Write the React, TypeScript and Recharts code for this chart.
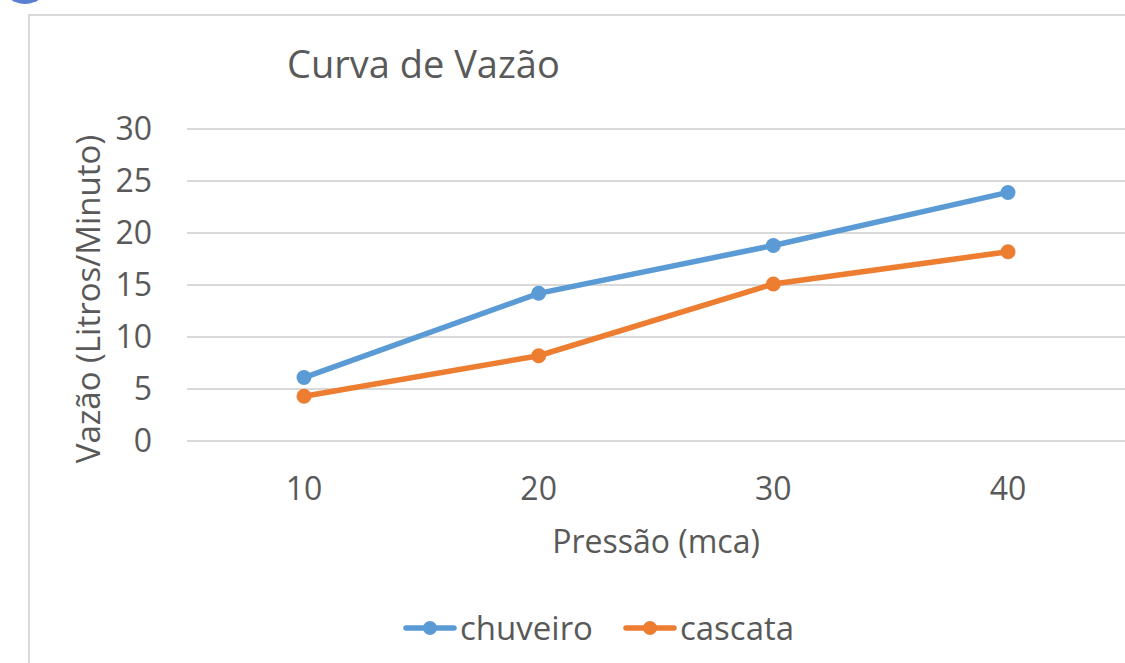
import { LineChart, Line, XAxis, YAxis, CartesianGrid, Legend } from 'recharts'

const pressoes = ['10', '20', '30', '40']
const chuveiro = [6.1, 14.2, 18.8, 23.9]
const cascata = [4.3, 8.2, 15.1, 18.2]
const yTicks = [0, 5, 10, 15, 20, 25, 30]

const data = pressoes.map((p, i) => ({ pressao: p, chuveiro: chuveiro[i], cascata: cascata[i] }))

const FONT = '"Open Sans", sans-serif'
const TEXT = '#595959'
const BLUE = '#5b9bd5'
const ORANGE = '#ed7d31'

function LegendContent() {
  const items = [
    { name: 'chuveiro', color: BLUE },
    { name: 'cascata', color: ORANGE },
  ]
  return (
    <div
      style={{
        display: 'flex',
        height: 40,
        alignItems: 'center',
        paddingLeft: 276,
        gap: 30,
        fontFamily: FONT,
        fontSize: 33,
        color: TEXT,
        lineHeight: '40px',
      }}
    >
      {items.map((it) => (
        <div key={it.name} style={{ display: 'flex', alignItems: 'center' }}>
          <svg width={54} height={20}>
            <line x1={3} y1={10} x2={51} y2={10} stroke={it.color} strokeWidth={5.5} strokeLinecap="round" />
            <circle cx={27} cy={10} r={7} fill={it.color} />
          </svg>
          <span style={{ marginLeft: 3 }}>{it.name}</span>
        </div>
      ))}
    </div>
  )
}

export default function App() {
  return (
    <div style={{ position: 'absolute', left: 0, top: 0, width: 1125, height: 663, overflow: 'hidden', background: '#fff' }}>
      <div style={{ position: 'absolute', left: 0, top: -46, width: 50, height: 50, borderRadius: 25, background: '#5a7fd0' }} />
      <div style={{ position: 'absolute', left: 28, top: 14, width: 1200, height: 800, border: '2px solid #d9d9d9' }} />
      <div
        style={{
          position: 'absolute',
          left: 287,
          top: 37,
          fontFamily: FONT,
          fontSize: 38,
          lineHeight: '52px',
          color: TEXT,
          whiteSpace: 'nowrap',
        }}
      >
        Curva de Vazão
      </div>
      <div
        style={{
          position: 'absolute',
          left: 87,
          top: 299,
          transform: 'translate(-50%, -50%) rotate(-90deg)',
          fontFamily: FONT,
          fontSize: 33,
          color: TEXT,
          whiteSpace: 'nowrap',
        }}
      >
        Vazão (Litros/Minuto)
      </div>
      <div style={{ position: 'absolute', left: 0, top: 0 }}>
        <LineChart width={1125} height={663} data={data} margin={{ top: 129, right: 0, left: 127, bottom: 62 }}>
          <CartesianGrid vertical={false} stroke="#d9d9d9" strokeWidth={2} />
          <XAxis
            dataKey="pressao"
            padding={{ left: 117, right: 117 }}
            axisLine={{ stroke: '#d9d9d9', strokeWidth: 2 }}
            tickLine={false}
            tickSize={0}
            tickMargin={36}
            height={120}
            tick={{ fill: TEXT, fontSize: 32, fontFamily: FONT }}
            label={{ value: 'Pressão (mca)', position: 'insideBottom', offset: 8, fill: TEXT, fontSize: 32, fontFamily: FONT }}
          />
          <YAxis
            domain={[0, 30]}
            ticks={yTicks}
            width={60}
            axisLine={false}
            tickLine={false}
            tickSize={0}
            tickMargin={35}
            tick={{ fill: TEXT, fontSize: 32, fontFamily: FONT }}
          />
          <Legend verticalAlign="bottom" content={<LegendContent />} wrapperStyle={{ bottom: 15 }} />
          <Line
            dataKey="chuveiro"
            stroke={BLUE}
            strokeWidth={5.5}
            dot={{ r: 7.5, fill: BLUE, stroke: BLUE, strokeWidth: 0 }}
            isAnimationActive={false}
          />
          <Line
            dataKey="cascata"
            stroke={ORANGE}
            strokeWidth={5.5}
            dot={{ r: 7.5, fill: ORANGE, stroke: ORANGE, strokeWidth: 0 }}
            isAnimationActive={false}
          />
        </LineChart>
      </div>
    </div>
  )
}
